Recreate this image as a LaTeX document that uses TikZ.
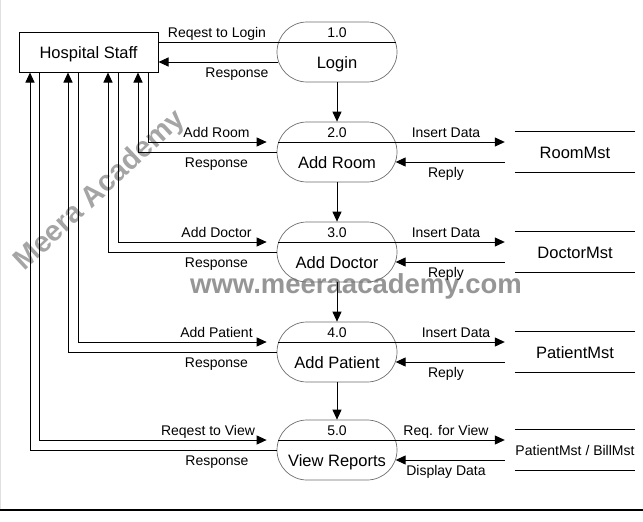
\documentclass[tikz,border=0pt]{standalone}
\usepackage{fontspec}
\setmainfont{Liberation Sans}
\usetikzlibrary{arrows.meta,calc}
\definecolor{wmgray}{RGB}{150,150,150}
\definecolor{wmlight}{RGB}{165,165,165}
\definecolor{shapegray}{RGB}{110,110,110}
\begin{document}
\begin{tikzpicture}[x=1pt,y=-1pt,
  lbl/.style={font=\fontsize{14}{16}\selectfont, inner sep=0pt, anchor=base},
  big/.style={font=\fontsize{16.5}{19}\selectfont, inner sep=0pt, anchor=base},
  proc/.style={draw=shapegray, line width=0.7pt, rounded corners=30pt, minimum width=120pt, minimum height=60pt, inner sep=0pt},
  store/.style={minimum width=120pt, minimum height=40pt, inner sep=0pt},
  storeline/.style={line width=1pt},
  flow/.style={line width=1pt},
  arr/.style={flow, -{Triangle[length=10pt,width=9pt]}},
  wm/.style={font=\bfseries\fontsize{27.5}{30}\selectfont, inner sep=0pt}
]
\useasboundingbox (0,0) rectangle (643,522);
\fill[white] (0,0) rectangle (643,522);
\draw[black!12, line width=1pt] (0.5,0) -- (0.5,510);
\draw[line width=2pt] (0,510) -- (643,510);

% watermarks
\node[wm, text=wmlight, rotate=43, font=\bfseries\fontsize{29}{32}\selectfont] (wm1) at (100,191) {Meera Academy};
\node[wm, text=wmgray, anchor=base] (wm2) at (356,293) {www.meeraacademy.com};

% external entity
\node[draw, line width=1pt, minimum width=139pt, minimum height=40pt, inner sep=0pt,
      font=\fontsize{16.5}{19}\selectfont, text height=13pt, text depth=0pt] (hs) at (88.5,52) {Hospital Staff};

% processes
\node[proc] (p1) at (337,52) {};
\node[proc] (p2) at (337,152) {};
\node[proc] (p3) at (337,252) {};
\node[proc] (p4) at (337,352) {};
\node[proc] (p5) at (337,450) {};

\node[lbl] (n1) at (337,37) {1.0};
\node[big] (t1) at (337,68.5) {Login};
\node[lbl] (n2) at (337,137) {2.0};
\node[big] (t2) at (337,168.5) {Add Room};
\node[lbl] (n3) at (337,237) {3.0};
\node[big] (t3) at (337,268.5) {Add Doctor};
\node[lbl] (n4) at (337,337) {4.0};
\node[big] (t4) at (337,368.5) {Add Patient};
\node[lbl] (n5) at (337,435) {5.0};
\node[big] (t5) at (337,466.5) {View Reports};

% divider points
\foreach \p in {p1,p2,p3,p4,p5}{
  \coordinate (\p dl) at ($(\p.west)+(1.7,-10)$);
  \coordinate (\p dr) at ($(\p.east)+(-1.7,-10)$);
  \coordinate (\p in) at ($(\p.west)+(-10,-10)$);
  \coordinate (\p rr) at ($(\p.east)+(-1.7,10)$);
  \draw[flow] (\p dl) -- (\p dr);
}

% data stores
\node[store] (s2) at (575,152) {};
\node[store] (s3) at (575,252) {};
\node[store] (s4) at (575,352) {};
\node[store] (s5) at (575,450) {};
\foreach \s in {s2,s3,s4,s5}{
  \coordinate (\s ia) at ($(\s.west)+(-10,-10)$);
  \coordinate (\s ra) at ($(\s.west)+(-10,10)$);
  \draw[storeline] (\s.north west) -- (\s.north east);
  \draw[storeline] (\s.south west) -- (\s.south east);
}
\node[big] (ts2) at (575,158) {RoomMst};
\node[big] (ts3) at (575,258) {DoctorMst};
\node[big] (ts4) at (575,358) {PatientMst};
\node[lbl] (ts5) at (575,455) {PatientMst / BillMst};

% login flows
\coordinate (l1s) at ($(p1.west)+(1.7,10)$);
\draw[flow] (hs.east |- p1dl) -- (p1dl);
\draw[arr] (l1s) -- (hs.east |- l1s);
\node[lbl] (l1a) at (217,37) {Reqest to Login};
\node[lbl] (l1b) at (237,77) {Response};

% process-to-process
\draw[arr] (p1.south) -- (p2.north);
\draw[arr] (p2.south) -- (p3.north);
\draw[arr] (p3.south) -- (p4.north);
\draw[arr] (p4.south) -- (p5.north);

% vertical rails
\coordinate (x2a) at (148,0); \coordinate (x2b) at (138,0);
\coordinate (x3a) at (118,0); \coordinate (x3b) at (108,0);
\coordinate (x4a) at (78,0);  \coordinate (x4b) at (68,0);
\coordinate (x5a) at (39,0);  \coordinate (x5b) at (30,0);

\foreach \i in {2,3,4,5}{
  \draw[arr] (hs.south -| x\i a) -- (p\i in -| x\i a) -- (p\i in);
  \draw[arr] (p\i.west) -- (p\i.west -| x\i b) -- (hs.south -| x\i b);
}

\node[lbl] (l2a) at (216.5,137) {Add Room};
\node[lbl] (l2b) at (216.5,167) {Response};
\node[lbl] (l3a) at (216.5,237) {Add Doctor};
\node[lbl] (l3b) at (216.5,267) {Response};
\node[lbl] (l4a) at (216.5,337) {Add Patient};
\node[lbl] (l4b) at (216.5,367) {Response};
\node[lbl] (l5a) at (208,435) {Reqest to View};
\node[lbl] (l5b) at (217,465) {Response};

% right flows
\foreach \i in {2,3,4,5}{
  \draw[arr] (p\i dr) -- (s\i ia);
  \draw[arr] (s\i ra) -- (p\i rr);
}
\node[lbl] (r2a) at (446,137) {Insert Data};
\node[lbl] (r2b) at (446,177) {Reply};
\node[lbl] (r3a) at (446,237) {Insert Data};
\node[lbl] (r3b) at (446,277) {Reply};
\node[lbl] (r4a) at (456,337) {Insert Data};
\node[lbl] (r4b) at (446,377) {Reply};
\node[lbl] (r5a) at (446,435) {Req. for View};
\node[lbl] (r5b) at (446,475) {Display Data};
\end{tikzpicture}
\end{document}
